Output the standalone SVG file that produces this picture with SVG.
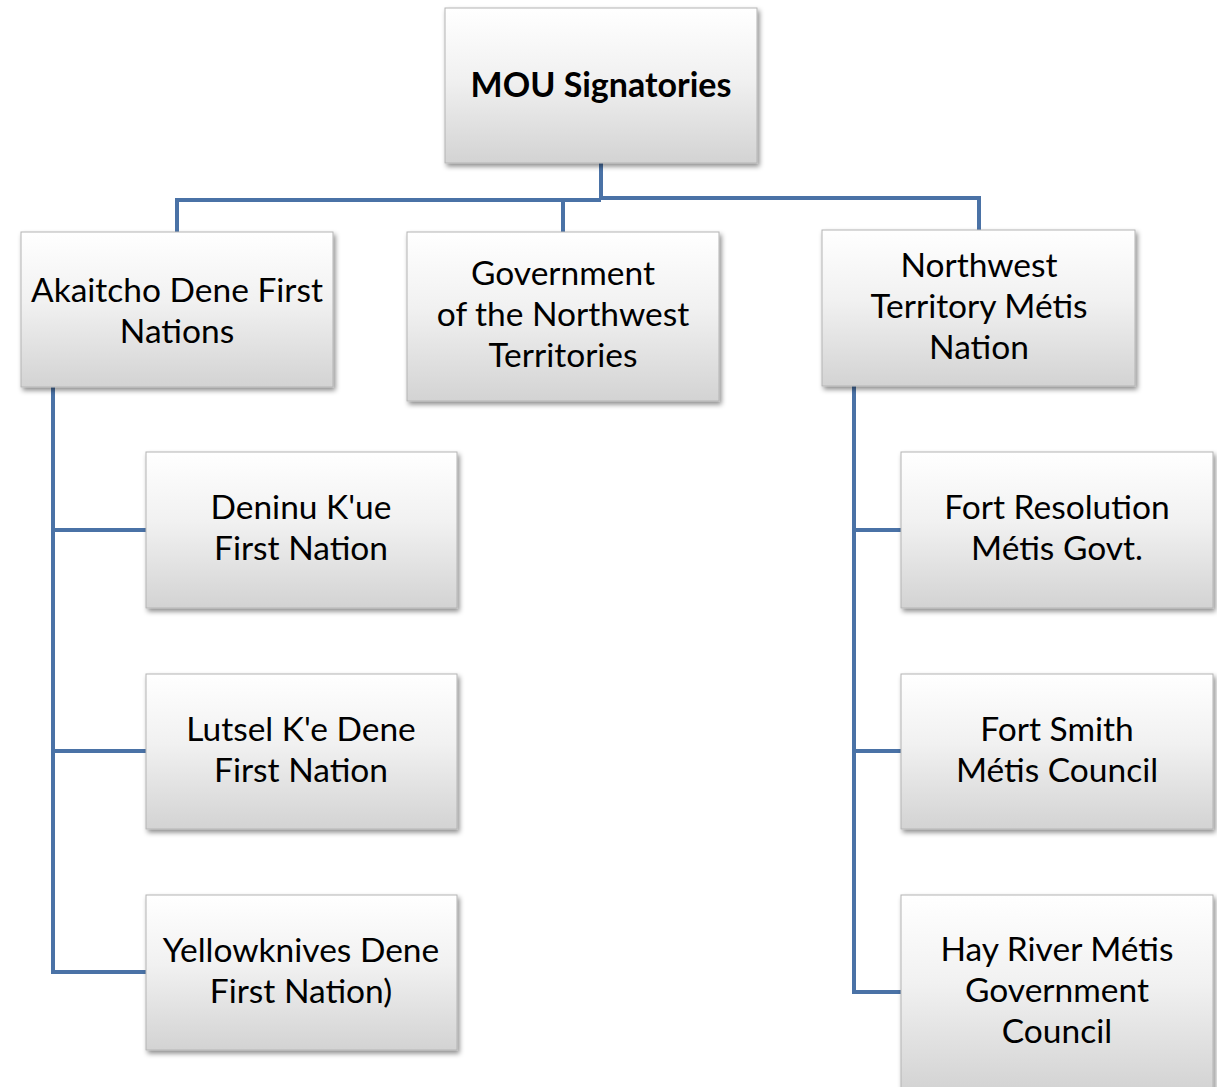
<svg xmlns="http://www.w3.org/2000/svg" width="1217" height="1087" viewBox="0 0 1217 1087">
<defs>
<linearGradient id="g" x1="0" y1="0" x2="0" y2="1">
<stop offset="0" stop-color="#ffffff"/>
<stop offset="0.45" stop-color="#f1f1f1"/>
<stop offset="1" stop-color="#d3d3d3"/>
</linearGradient>
<filter id="sh" x="-10%" y="-10%" width="125%" height="130%">
<feDropShadow dx="2" dy="3" stdDeviation="2.5" flood-color="#000" flood-opacity="0.45"/>
</filter>
</defs>
<style>
.box{fill:url(#g);stroke:#b4b4b4;stroke-width:1;filter:url(#sh)}
.t{font-family:Lato,"Liberation Sans",sans-serif;font-size:33.5px;fill:#000;text-anchor:middle}
.b{font-weight:bold;font-size:34px}
.c{fill:none;stroke:#4a72a6;stroke-width:4}
</style>
<rect width="1217" height="1087" fill="#fff"/>
<g id="connectors">
<path class="c" d="M601,163 V199 M177,232 V200 H601 M563,200 V232 M601,198 H979 V230"/>
<path class="c" d="M53,387 V972 H146 M53,530 H146 M53,751 H146"/>
<path class="c" d="M854,386 V992 H901 M854,530 H901 M854,751 H901"/>
</g>
<g id="root"><rect class="box" x="445" y="8" width="312" height="155"/><text class="t b" x="601" y="97">MOU Signatories</text></g>
<g id="akaitcho"><rect class="box" x="21" y="232" width="312" height="155"/><text class="t" x="177" y="302">Akaitcho Dene First</text><text class="t" x="177" y="343">Nations</text></g>
<g id="gnwt"><rect class="box" x="407" y="232" width="312" height="169"/><text class="t" x="563" y="285">Government</text><text class="t" x="563" y="326">of the Northwest</text><text class="t" x="563" y="367">Territories</text></g>
<g id="nwtmn"><rect class="box" x="822" y="230" width="313" height="156"/><text class="t" x="979" y="277">Northwest</text><text class="t" x="979" y="318">Territory Métis</text><text class="t" x="979" y="359">Nation</text></g>
<g id="deninu"><rect class="box" x="146" y="452" width="311" height="156"/><text class="t" x="301" y="519">Deninu K'ue</text><text class="t" x="301" y="560">First Nation</text></g>
<g id="lutsel"><rect class="box" x="146" y="674" width="311" height="155"/><text class="t" x="301" y="741">Lutsel K'e Dene</text><text class="t" x="301" y="782">First Nation</text></g>
<g id="yellowknives"><rect class="box" x="146" y="895" width="311" height="155"/><text class="t" x="301" y="962">Yellowknives Dene</text><text class="t" x="301" y="1003">First Nation)</text></g>
<g id="fortres"><rect class="box" x="901" y="452" width="312" height="156"/><text class="t" x="1057" y="519">Fort Resolution</text><text class="t" x="1057" y="560">Métis Govt.</text></g>
<g id="fortsmith"><rect class="box" x="901" y="674" width="312" height="155"/><text class="t" x="1057" y="741">Fort Smith</text><text class="t" x="1057" y="782">Métis Council</text></g>
<g id="hayriver"><rect class="box" x="901" y="895" width="312" height="196"/><text class="t" x="1057" y="961">Hay River Métis</text><text class="t" x="1057" y="1002">Government</text><text class="t" x="1057" y="1043">Council</text></g>
</svg>
